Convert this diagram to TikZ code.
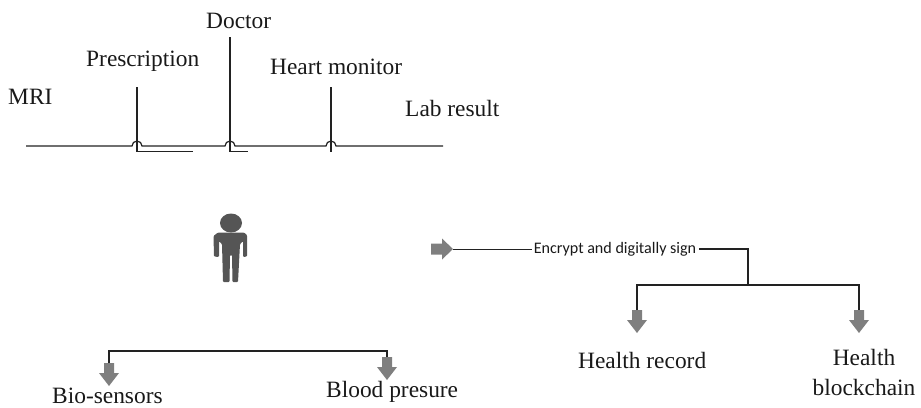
\documentclass[tikz,border=0pt]{standalone}
\usepackage{fontspec}
\setmainfont{Liberation Serif}
\newfontfamily\labelfont{Carlito}
\definecolor{arrowgrey}{HTML}{7F7F7F}
\definecolor{persongrey}{HTML}{555555}
\definecolor{linedark}{HTML}{222222}
\tikzset{
  lab/.style={anchor=base west,inner sep=0pt,font=\fontsize{23.4bp}{26bp}\selectfont,text=black!90},
  wire/.style={draw=linedark,line width=1.2bp},
  downblock/.pic={\fill[arrowgrey] (-5,0) -- (5,0) -- (5,10) -- (10,10) -- (0,23) -- (-10,10) -- (-5,10) -- cycle;},
  rightblock/.pic={\fill[arrowgrey] (0,-5.5) -- (11,-5.5) -- (11,-10.5) -- (22,0) -- (11,10.5) -- (11,5.5) -- (0,5.5) -- cycle;}
}
\begin{document}
\begin{tikzpicture}[x=1bp,y=-1bp]
\useasboundingbox (0,0) rectangle (921,407);
% labels
\node[lab] (mri) at (8,104) {MRI};
\node[lab] (presc) at (86,66) {Prescription};
\node[lab] (doctor) at (206,28) {Doctor};
\node[lab] (heart) at (270,74) {Heart monitor};
\node[lab] (labres) at (405,116) {Lab result};
\node[lab] (bio) at (52,403) {Bio-sensors};
\node[lab] (blood) at (326,397) {Blood presure};
\node[lab] (hrec) at (578,368) {Health record};
\node[lab,anchor=base] (hb1) at (864,365) {Health};
\node[lab,anchor=base] (hb2) at (864,395) {blockchain};
% bus with hops
\coordinate (busL) at (26,146);
\coordinate (busR) at (443,146);
\coordinate (hopA) at (137,146);
\coordinate (hopB) at (230,146);
\coordinate (hopC) at (331,146);
\draw[wire] (busL) -- ([xshift=-5bp]hopA) arc[start angle=180,end angle=0,radius=5bp]
  -- ([xshift=-5bp]hopB) arc[start angle=180,end angle=0,radius=5bp]
  -- ([xshift=-5bp]hopC) arc[start angle=180,end angle=0,radius=5bp]
  -- (busR);
\coordinate (vA) at (137,87);
\coordinate (vAend) at (193,151.5);
\coordinate (vB) at (230,37);
\coordinate (vBend) at (248,151.5);
\coordinate (vC) at (331,87);
\coordinate (vCend) at (331,151.5);
\draw[wire] (vA) |- (vAend);
\draw[wire] (vB) |- (vBend);
\draw[wire] (vC) -- (vCend);
% person
\fill[persongrey] (231,223) ellipse[x radius=11,y radius=9.5];
\fill[persongrey,rounded corners=1bp]
  (218,232.5) -- (244,232.5) -- (247,235) -- (247,256.5) -- (243,257) -- (243,241)
  -- (240,244) -- (238,282) -- (232.5,282) -- (232,255) -- (230,255) -- (229.5,282)
  -- (223,282) -- (222,244) -- (219,241) -- (219,257) -- (214,256.5) -- (213.5,236) -- cycle;
% encrypt branch
\coordinate (inTail) at (431,249);
\coordinate (inTip) at (453,249);
\pic at (inTail) {rightblock};
\node[anchor=center,inner sep=0pt,font=\fontsize{16.1bp}{20bp}\labelfont,text=black!90] (enc) at (615,249) {Encrypt and digitally sign};
\coordinate (split) at (748,285);
\coordinate (arrRec) at (637,310);
\coordinate (arrChain) at (859,310);
\pic at (arrRec) {downblock};
\pic at (arrChain) {downblock};
\draw[wire,line width=0.9bp] (inTip) -- ([xshift=-2bp]enc.west);
\draw[wire] ([xshift=3bp]enc.east) -| (split);
\draw[wire] (arrRec) |- (split) -| (arrChain);
% sensors branch
\coordinate (arrBio) at (109,363);
\coordinate (arrBlood) at (387,357);
\pic at (arrBio) {downblock};
\pic at (arrBlood) {downblock};
\coordinate (top) at (250,351);
\draw[wire] (arrBio) |- (top) -| (arrBlood);
\end{tikzpicture}
\end{document}
